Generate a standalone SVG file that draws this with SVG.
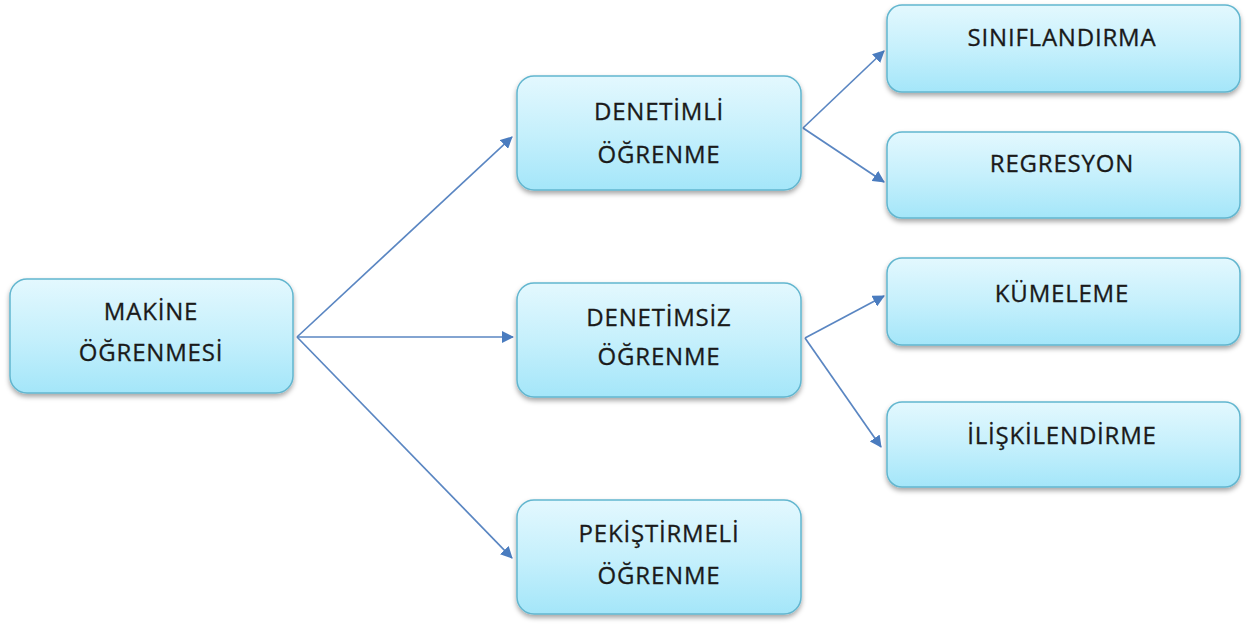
<svg xmlns="http://www.w3.org/2000/svg" width="1247" height="624" viewBox="0 0 1247 624">
  <defs>
    <linearGradient id="boxFill" x1="0" y1="0" x2="0" y2="1">
      <stop offset="0" stop-color="#e3f8fe"/>
      <stop offset="0.5" stop-color="#c6f0fc"/>
      <stop offset="1" stop-color="#a4e6f9"/>
    </linearGradient>
    <filter id="shadow" x="-10%" y="-10%" width="120%" height="130%">
      <feDropShadow dx="0" dy="3" stdDeviation="2.5" flood-color="#000" flood-opacity="0.35"/>
    </filter>
    <marker id="arrow" viewBox="0 0 12 12" refX="11" refY="6" markerWidth="12" markerHeight="12" markerUnits="userSpaceOnUse" orient="auto">
      <path d="M0,0 L12,6 L0,12 z" fill="#4a7cbf"/>
    </marker>
  </defs>
  <style>
    .box { fill: url(#boxFill); stroke: #62b6cf; stroke-width: 1.5; filter: url(#shadow); }
    .lbl { font-family: "Open Sans", Lato, "Liberation Sans", sans-serif; font-size: 24px; letter-spacing: 0.8px; fill: #1a1a1a; stroke: #1a1a1a; stroke-width: 0.3; text-anchor: middle; }
    .edge { stroke: #5a86c2; stroke-width: 1.7; fill: none; marker-end: url(#arrow); }
  </style>
  <rect width="1247" height="624" fill="#fff"/>

  <g id="connectors">
    <line class="edge" x1="297" y1="337" x2="512" y2="137"/>
    <line class="edge" x1="297" y1="337" x2="513" y2="337"/>
    <line class="edge" x1="297" y1="337" x2="512" y2="558"/>
    <line class="edge" x1="803" y1="128" x2="884" y2="51"/>
    <line class="edge" x1="803" y1="128" x2="884" y2="182"/>
    <line class="edge" x1="805" y1="338" x2="884" y2="296"/>
    <line class="edge" x1="805" y1="338" x2="881" y2="447"/>
  </g>

  <g id="makine">
    <rect class="box" x="10" y="279" width="283" height="114" rx="17"/>
    <text class="lbl" x="151" y="320">MAKİNE</text>
    <text class="lbl" x="151" y="361">ÖĞRENMESİ</text>
  </g>
  <g id="denetimli">
    <rect class="box" x="517" y="76" width="284" height="114" rx="17"/>
    <text class="lbl" x="659" y="120">DENETİMLİ</text>
    <text class="lbl" x="659" y="163">ÖĞRENME</text>
  </g>
  <g id="denetimsiz">
    <rect class="box" x="517" y="283" width="284" height="114" rx="17"/>
    <text class="lbl" x="659" y="326">DENETİMSİZ</text>
    <text class="lbl" x="659" y="365">ÖĞRENME</text>
  </g>
  <g id="pekistirmeli">
    <rect class="box" x="517" y="500" width="284" height="114" rx="17"/>
    <text class="lbl" x="659" y="542">PEKİŞTİRMELİ</text>
    <text class="lbl" x="659" y="584">ÖĞRENME</text>
  </g>
  <g id="siniflandirma">
    <rect class="box" x="887" y="5" width="353" height="87" rx="15"/>
    <text class="lbl" x="1062" y="46">SINIFLANDIRMA</text>
  </g>
  <g id="regresyon">
    <rect class="box" x="887" y="132" width="353" height="86" rx="15"/>
    <text class="lbl" x="1062" y="172">REGRESYON</text>
  </g>
  <g id="kumeleme">
    <rect class="box" x="887" y="258" width="353" height="87" rx="15"/>
    <text class="lbl" x="1062" y="302">KÜMELEME</text>
  </g>
  <g id="iliskilendirme">
    <rect class="box" x="887" y="402" width="353" height="85" rx="15"/>
    <text class="lbl" x="1062" y="444">İLİŞKİLENDİRME</text>
  </g>
</svg>
